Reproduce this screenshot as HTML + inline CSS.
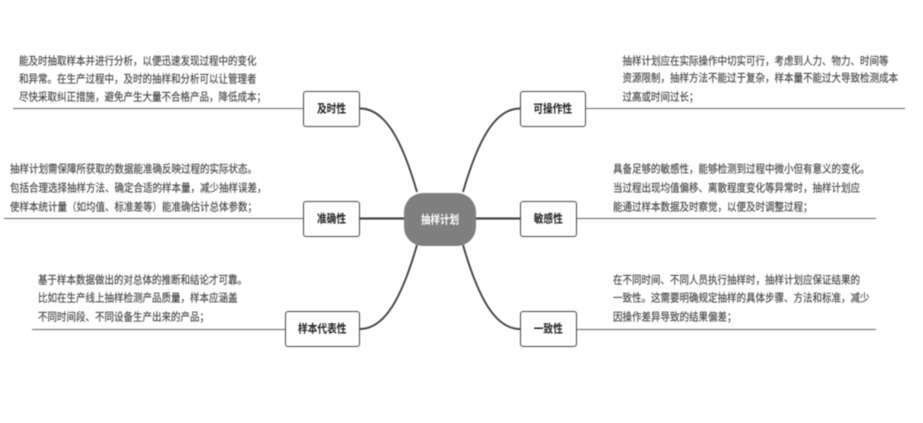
<!DOCTYPE html>
<html lang="zh">
<head>
<meta charset="utf-8">
<style>
html,body{margin:0;padding:0;background:#fff;}
body{width:923px;height:423px;overflow:hidden;position:relative;font-family:"Liberation Sans","Noto Sans CJK SC",sans-serif;}
#w{position:absolute;left:0;top:0;width:923px;height:423px;filter:blur(0.4px);}
.t{position:absolute;font-size:9.5px;line-height:18px;height:18px;color:#444;white-space:nowrap;transform:scaleY(1.16);transform-origin:50% 50%;-webkit-text-stroke:0.12px #444;}
.n{position:absolute;box-sizing:border-box;border:1.5px solid #444;border-radius:3px;background:#fff;color:#222;font-size:9.7px;font-weight:700;text-align:center;white-space:nowrap;line-height:36px;height:36px;}
.n span,#c span{display:inline-block;transform:scaleY(1.2);}
.l{position:absolute;height:1px;background:#666;}
#c{position:absolute;left:404px;top:192.5px;width:72px;height:53px;border-radius:19px;background:#7f7f7f;color:#fff;font-size:9.5px;font-weight:700;line-height:55px;text-align:center;}
svg{position:absolute;left:0;top:0;}
</style>
</head>
<body>
<div id="w">
<svg width="923" height="423" viewBox="0 0 923 423" fill="none" stroke="#444">
<path d="M360,108.5 C385,108.5 402,140 417,192" stroke-width="1.9"/>
<path d="M520,108.5 C495,108.5 478,140 463,192" stroke-width="1.9"/>
<path d="M360,329 C385,329 402,297 417,245" stroke-width="1.9"/>
<path d="M520,329 C495,329 478,297 463,245" stroke-width="1.9"/>
<path d="M360,218.5 H404" stroke-width="2.2"/>
<path d="M476,218.5 H520" stroke-width="2.2"/>
</svg>

<div class="l" style="left:13px;top:108px;width:290px;"></div>
<div class="l" style="left:4px;top:218px;width:299px;"></div>
<div class="l" style="left:32px;top:329px;width:253px;"></div>
<div class="l" style="left:585px;top:108px;width:320px;"></div>
<div class="l" style="left:576px;top:218px;width:300px;"></div>
<div class="l" style="left:576px;top:329px;width:300px;"></div>

<div id="c"><span>抽样计划</span></div>

<div class="n" style="left:303px;top:91px;width:57px;"><span>及时性</span></div>
<div class="n" style="left:303px;top:201px;width:57px;"><span>准确性</span></div>
<div class="n" style="left:284.5px;top:311px;width:75.5px;"><span>样本代表性</span></div>
<div class="n" style="left:520px;top:91px;width:65.5px;"><span>可操作性</span></div>
<div class="n" style="left:520px;top:201px;width:56.5px;"><span>敏感性</span></div>
<div class="n" style="left:520px;top:311px;width:56.5px;"><span>一致性</span></div>

<div class="t" style="left:19px;top:52.5px;">能及时抽取样本并进行分析，以便迅速发现过程中的变化</div>
<div class="t" style="left:19px;top:71px;">和异常。在生产过程中，及时的抽样和分析可以让管理者</div>
<div class="t" style="left:19px;top:88.5px;">尽快采取纠正措施，避免产生大量不合格产品，降低成本；</div>

<div class="t" style="left:10px;top:161px;">抽样计划需保障所获取的数据能准确反映过程的实际状态。</div>
<div class="t" style="left:10px;top:180px;">包括合理选择抽样方法、确定合适的样本量，减少抽样误差，</div>
<div class="t" style="left:10px;top:199px;">使样本统计量（如均值、标准差等）能准确估计总体参数；</div>

<div class="t" style="left:38px;top:272px;">基于样本数据做出的对总体的推断和结论才可靠。</div>
<div class="t" style="left:38px;top:290px;">比如在生产线上抽样检测产品质量，样本应涵盖</div>
<div class="t" style="left:38px;top:309px;">不同时间段、不同设备生产出来的产品；</div>

<div class="t" style="left:622.5px;top:52.5px;">抽样计划应在实际操作中切实可行，考虑到人力、物力、时间等</div>
<div class="t" style="left:622.5px;top:70px;">资源限制，抽样方法不能过于复杂，样本量不能过大导致检测成本</div>
<div class="t" style="left:622.5px;top:89px;">过高或时间过长；</div>

<div class="t" style="left:613px;top:161px;">具备足够的敏感性，能够检测到过程中微小但有意义的变化。</div>
<div class="t" style="left:613px;top:180px;">当过程出现均值偏移、离散程度变化等异常时，抽样计划应</div>
<div class="t" style="left:613px;top:199px;">能通过样本数据及时察觉，以便及时调整过程；</div>

<div class="t" style="left:613px;top:272px;">在不同时间、不同人员执行抽样时，抽样计划应保证结果的</div>
<div class="t" style="left:613px;top:290px;">一致性。这需要明确规定抽样的具体步骤、方法和标准，减少</div>
<div class="t" style="left:613px;top:309px;">因操作差异导致的结果偏差；</div>
</div>
</body>
</html>
